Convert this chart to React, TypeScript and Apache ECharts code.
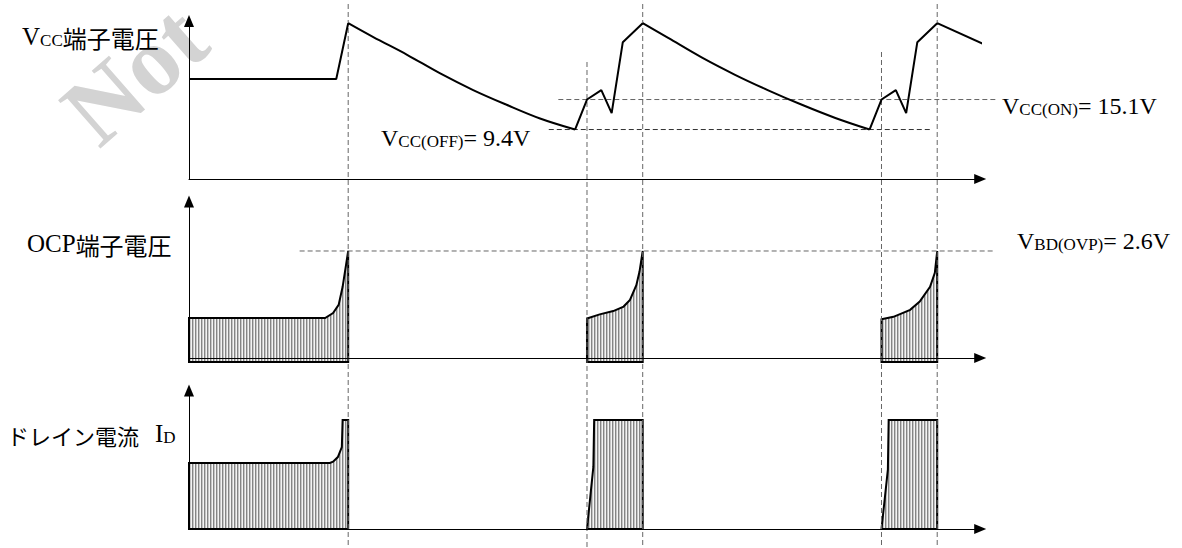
import React, { useEffect, useRef } from "react";
import * as echarts from "echarts";

// ---------- data (time in arbitrary units) ----------
const T_MIN = 0;
const T_MAX = 99.4;

// threshold values (V)
const VCC_ON = 15.1;
const VCC_OFF = 9.4;
const VBD_OVP = 2.6;

// event times marked by vertical dashed lines
const markerTimes = [20, 50, 57, 87, 94];

// Panel 1: VCC terminal voltage (V) — straight rising parts
const vccRiseSegments: number[][][] = [
  [[0, 19.0], [18.5, 19.0], [20, 29.6]],
  [[48.5, 9.4], [50, 15.1], [51.8, 16.9], [53.1, 12.5], [54.5, 26.0], [57, 29.6]],
  [[85.5, 9.4], [87, 15.1], [88.8, 16.9], [90.1, 12.5], [91.5, 26.0], [94, 29.6]],
];
// Panel 1: decaying parts (smooth)
const vccDecaySegments: number[][][] = [
  [[20, 29.6], [23.1, 27.0], [27.4, 23.6], [31.5, 20.1], [35.7, 16.9], [39.9, 14.1], [44.1, 11.5], [48.5, 9.4]],
  [[57, 29.6], [60.2, 26.8], [64.4, 23.1], [68.6, 19.8], [72.7, 16.9], [77.0, 14.1], [81.2, 11.6], [85.5, 9.4]],
  [[94, 29.6], [100, 25.5]],
];

// Panel 2: OCP terminal voltage (V) — top outline of each hatched burst
const ocpRegions: number[][][] = [
  [[0, 0.97], [17.1, 0.97], [18.1, 1.09], [18.8, 1.29], [19.3, 1.73], [20, 2.6]],
  [[50, 0.96], [51.6, 1.06], [53.3, 1.14], [54.6, 1.25], [55.4, 1.41], [56.2, 1.77], [56.6, 2.1], [57, 2.6]],
  [[87, 0.94], [88.5, 1.0], [90.6, 1.17], [91.8, 1.37], [93.1, 1.73], [93.7, 2.07], [94, 2.6]],
];
const OCP_BASE = -0.1;

// Panel 3: drain current (a.u.) — top outline of each hatched burst
const drainRegions: number[][][] = [
  [[0, 1.0], [17.7, 1.0], [18.1, 1.02], [18.7, 1.09], [19.2, 1.24], [19.3, 1.65], [20, 1.65]],
  [[50, 0], [50.8, 0.94], [50.9, 1.65], [57, 1.65]],
  [[87, 0], [87.8, 0.9], [87.9, 1.65], [94, 1.65]],
];
const DRAIN_BASE = 0;

// ---------- styles ----------
const LATIN = "'Liberation Serif', 'Times New Roman', serif";
const CJK = "'Noto Sans CJK JP', sans-serif";

const hatchSvg =
  '<svg xmlns="http://www.w3.org/2000/svg" width="3" height="6">' +
  '<rect width="3" height="6" fill="#f4f4f4"/>' +
  '<rect width="1" height="6" fill="#858585"/>' +
  '<rect x="1" width="1" height="6" fill="#c6c6c6"/></svg>';
const hatchFill: any = {
  image: "data:image/svg+xml;charset=utf-8," + encodeURIComponent(hatchSvg),
  repeat: "repeat",
  imageWidth: 3,
  imageHeight: 6,
};

const axisLineStyle = {
  show: true,
  onZero: true,
  symbol: ["none", "triangle"],
  symbolSize: [10, 12],
  lineStyle: { color: "#000", width: 1 },
};

function makeAxes(gi: number, min: number, max: number) {
  return {
    x: {
      type: "value",
      gridIndex: gi,
      min: T_MIN,
      max: T_MAX,
      z: 5,
      axisLine: axisLineStyle,
      axisTick: { show: false },
      axisLabel: { show: false },
      splitLine: { show: false },
    },
    y: {
      type: "value",
      gridIndex: gi,
      min,
      max,
      z: 5,
      axisLine: axisLineStyle,
      axisTick: { show: false },
      axisLabel: { show: false },
      splitLine: { show: false },
    },
  };
}

function regionSeries(gi: number, regions: number[][][], base: number) {
  return {
    type: "custom",
    xAxisIndex: gi,
    yAxisIndex: gi,
    silent: true,
    z: 1,
    data: regions.map((r) => [r[0][0], r[r.length - 1][0]]),
    renderItem: (params: any, api: any) => {
      const r = regions[params.dataIndex];
      const pts = r.map((p) => api.coord(p));
      pts.push(api.coord([r[r.length - 1][0], base]));
      pts.push(api.coord([r[0][0], base]));
      return {
        type: "polygon",
        shape: { points: pts },
        style: { fill: hatchFill, stroke: "#000", lineWidth: 2, lineJoin: "miter" },
      };
    },
  };
}

const richL = {
  m: { fontFamily: LATIN, fontSize: 25, fill: "#000", lineHeight: 30, verticalAlign: "bottom" },
  s: { fontFamily: LATIN, fontSize: 17, fill: "#000", lineHeight: 16, verticalAlign: "bottom" },
  j: { fontFamily: CJK, fontSize: 24, fill: "#000", lineHeight: 30, verticalAlign: "bottom" },
  k: { fontFamily: CJK, fontSize: 22, fill: "#000", lineHeight: 30, verticalAlign: "bottom" },
  g: { fontFamily: LATIN, fontSize: 25, width: 16, lineHeight: 30, verticalAlign: "bottom" },
};
const richR = {
  m: { fontFamily: LATIN, fontSize: 24, fill: "#000", lineHeight: 28, verticalAlign: "bottom" },
  s: { fontFamily: LATIN, fontSize: 17, fill: "#000", lineHeight: 14, verticalAlign: "bottom" },
};

export default function App() {
  const ref = useRef<HTMLDivElement>(null);

  useEffect(() => {
    document.body.style.margin = "0";
    const el = ref.current!;
    const chart = echarts.init(el, null, { renderer: "svg" });

    const a0 = makeAxes(0, 0, 30);
    const a1 = makeAxes(1, OCP_BASE, 3.8);
    const a2 = makeAxes(2, DRAIN_BASE, 2.1);

    const lineSeries: any[] = [];
    vccRiseSegments.forEach((seg) =>
      lineSeries.push({
        type: "line",
        xAxisIndex: 0,
        yAxisIndex: 0,
        data: seg,
        showSymbol: false,
        silent: true,
        clip: false,
        lineStyle: { color: "#000", width: 2 },
      })
    );
    vccDecaySegments.forEach((seg) =>
      lineSeries.push({
        type: "line",
        xAxisIndex: 0,
        yAxisIndex: 0,
        data: seg,
        smooth: 0.35,
        showSymbol: false,
        silent: true,
        clip: false,
        lineStyle: { color: "#000", width: 2 },
      })
    );

    chart.setOption({
      animation: false,
      backgroundColor: "#fff",
      grid: [
        { left: 189, width: 791.2, top: 21.1, height: 157.9 },
        { left: 189, width: 791.2, top: 201.6, height: 160.5 },
        { left: 189, width: 791.2, top: 390.4, height: 138.6 },
      ],
      xAxis: [a0.x, a1.x, a2.x],
      yAxis: [a0.y, a1.y, a2.y],
      series: [
        ...lineSeries,
        regionSeries(1, ocpRegions, OCP_BASE),
        regionSeries(2, drainRegions, DRAIN_BASE),
      ],
    });

    const px = (gi: number, t: number, v: number) =>
      chart.convertToPixel({ gridIndex: gi } as any, [t, v]) as number[];

    const dashGray = { stroke: "#666", lineWidth: 1, lineDash: [5, 3] };
    const dashDark = { stroke: "#333", lineWidth: 1, lineDash: [5, 3] };
    const markerTops = [4, 62, 4, 52, 4];

    const elements: any[] = [];

    // watermark (cut by the top edge, as in the source)
    elements.push({
      type: "text",
      x: 45,
      y: 88,
      rotation: 0.72,
      z: -10,
      silent: true,
      style: {
        text: "Not",
        font: "bold 98px 'Liberation Serif', serif",
        fill: "#d3d3d3",
        verticalAlign: "alphabetic",
      },
    });

    markerTimes.forEach((t, i) => {
      const x = px(0, t, 0)[0];
      elements.push({
        type: "line",
        z: 1,
        silent: true,
        shape: { x1: x, y1: markerTops[i], x2: x, y2: 548 },
        style: dashGray,
      });
    });

    const hline = (gi: number, v: number, t1: number, t2: number, style: any) => {
      const p1 = px(gi, t1, v);
      const p2 = px(gi, t2, v);
      elements.push({
        type: "line",
        z: 1,
        silent: true,
        shape: { x1: p1[0], y1: p1[1], x2: p2[0], y2: p2[1] },
        style,
      });
      return p1[1];
    };
    const yOn = hline(0, VCC_ON, 46.4, 101.3, dashGray);
    const yOff = hline(0, VCC_OFF, 45.2, 93.3, dashDark);
    const yOvp = hline(1, VBD_OVP, 13.9, 101.3, dashGray);

    const label = (x: number, y: number, text: string, rich: any) =>
      elements.push({
        type: "text",
        x,
        y,
        z: 10,
        silent: true,
        style: { text, rich, verticalAlign: "top", align: "left" },
      });

    // left titles
    label(22, 19, "{m|V}{s|CC}{j|端子電圧}", richL);
    label(27, 226, "{m|OCP}{j|端子電圧}", richL);
    label(7, 416, "{k|ドレイン電流}{g| }{m|I}{s|D}", richL);

    // threshold labels
    label(1002, yOn - 9.5, "{m|V}{s|CC(ON)}{m|= " + VCC_ON.toFixed(1) + "V}", richR);
    label(381, yOff - 7.5, "{m|V}{s|CC(OFF)}{m|= " + VCC_OFF.toFixed(1) + "V}", richR);
    label(1017, yOvp - 25.5, "{m|V}{s|BD(OVP)}{m|= " + VBD_OVP.toFixed(1) + "V}", richR);

    chart.setOption({ graphic: { elements } });

    return () => chart.dispose();
  }, []);

  return <div ref={ref} style={{ width: 1182, height: 548 }} />;
}
